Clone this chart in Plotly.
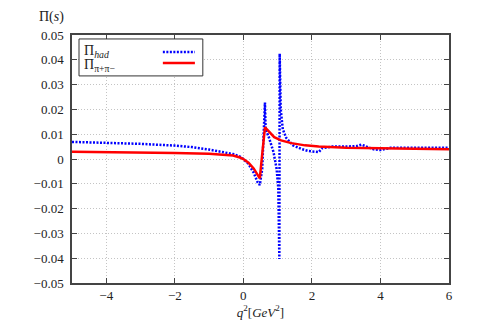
import plotly.graph_objects as go

# Pi_had (blue dotted)
q2_had = [-5.0, -4.0, -3.0, -2.0, -1.5, -1.0, -0.5, -0.3, -0.1, 0.0, 0.15, 0.3, 0.42, 0.48,
          0.55, 0.6, 0.63, 0.65, 0.75, 0.88, 0.97, 1.02, 1.05, 1.06, 1.09, 1.15, 1.25,
          1.45, 1.7, 1.9, 2.2, 2.3, 2.6, 3.0, 3.3, 3.45, 3.6, 3.8, 4.0, 4.3, 5.0, 6.0]
pi_had = [0.0069, 0.0066, 0.0061, 0.0054, 0.0048, 0.0038, 0.0026, 0.0020, 0.0010, 0.0, -0.002,
          -0.0055, -0.0095, -0.0105, -0.004, 0.012, 0.0228, 0.012, 0.0085, 0.0028, -0.004,
          -0.012, -0.0403, 0.0425, 0.02, 0.012, 0.0085, 0.0055, 0.0040, 0.0032, 0.0028, 0.0044,
          0.0050, 0.0050, 0.0052, 0.0058, 0.0050, 0.0039, 0.0036, 0.0045, 0.0045, 0.0045]

# Pi_pi+pi- (red solid)
q2_pp = [-5.0, -4.0, -3.0, -2.0, -1.0, -0.5, -0.3, -0.1, 0.0, 0.15, 0.3, 0.42, 0.48,
         0.55, 0.63, 0.75, 0.9, 1.1, 1.4, 1.8, 2.2, 3.0, 4.0, 5.0, 6.0]
pi_pp = [0.0029, 0.0028, 0.0026, 0.0024, 0.0021, 0.0018, 0.0014, 0.0006, 0.0, -0.0015,
         -0.0038, -0.0065, -0.0078, 0.002, 0.0128, 0.011, 0.0088, 0.0075, 0.0064, 0.0055,
         0.005, 0.0045, 0.0042, 0.004, 0.0039]

x_ticks = [-4, -2, 0, 2, 4, 6]
x_labels = ["\u22124", "\u22122", "0", "2", "4", "6"]
y_ticks = [0.05, 0.04, 0.03, 0.02, 0.01, 0, -0.01, -0.02, -0.03, -0.04, -0.05]
y_labels = ["0.05", "0.04", "0.03", "0.02", "0.01", "0", "\u22120.01", "\u22120.02",
            "\u22120.03", "\u22120.04", "\u22120.05"]

font = "Liberation Serif"
ink = '#222'

fig = go.Figure()
fig.add_trace(go.Scatter(x=q2_had, y=pi_had, mode='lines', name='had',
                         line=dict(color='#0000ff', width=2.5, dash='2px,1.5px')))
fig.add_trace(go.Scatter(x=q2_pp, y=pi_pp, mode='lines', name='pipi',
                         line=dict(color='#ff0000', width=2.5)))

axis_common = dict(showline=True, linecolor='#444', linewidth=1.5, mirror='ticks',
                   ticks='inside', ticklen=5, tickcolor='#444',
                   showgrid=True, gridcolor='#c4c4c4', griddash='1px,2px', gridwidth=1,
                   zeroline=False, tickfont=dict(family=font, size=13, color=ink))

fig.update_layout(
    width=484, height=331,
    margin=dict(l=72, r=35, t=35, b=48),
    paper_bgcolor='white', plot_bgcolor='white',
    showlegend=False,
    font=dict(family=font, color=ink),
    xaxis=dict(range=[-5, 6], tickvals=x_ticks, ticktext=x_labels,
               title=dict(text="<i>q</i><sup>2</sup>[<i>GeV</i><sup>2</sup>]",
                          font=dict(family=font, size=13, color=ink), standoff=2),
               **axis_common),
    yaxis=dict(range=[-0.05, 0.05], tickvals=y_ticks, ticktext=y_labels,
               ticklabelstandoff=4, **axis_common),
)

# y-axis label at top-left
fig.add_annotation(x=(51 - 72) / 377, y=(283 - 17) / 248, xref='paper', yref='paper',
                   xanchor='center', yanchor='middle', text="\u03a0(<i>s</i>)",
                   showarrow=False, font=dict(family=font, size=14, color=ink))

# legend box with sample lines on the right
fig.add_shape(type='rect', xref='paper', yref='paper', x0=0.0186, x1=0.347, y0=0.835, y1=0.984,
              line=dict(color='#333', width=1), fillcolor='white', layer='above')
fig.add_shape(type='line', xref='paper', yref='paper', x0=0.241, x1=0.326, y0=0.931, y1=0.931,
              line=dict(color='#0000ff', width=2.5, dash='2px,1.5px'), layer='above')
fig.add_shape(type='line', xref='paper', yref='paper', x0=0.241, x1=0.326, y0=0.887, y1=0.887,
              line=dict(color='#ff0000', width=2.5), layer='above')
fig.add_annotation(x=0.026, y=0.933, xref='paper', yref='paper', xanchor='left', yanchor='middle',
                   text="\u03a0<sub><i>had</i></sub>", showarrow=False,
                   font=dict(family=font, size=14, color=ink))
fig.add_annotation(x=0.026, y=0.878, xref='paper', yref='paper', xanchor='left', yanchor='middle',
                   text="\u03a0<sub>\u03c0+\u03c0\u2212</sub>", showarrow=False,
                   font=dict(family=font, size=14, color=ink))

fig.write_html("out.html", config={'displayModeBar': False},
               post_script="document.body.style.margin='0';")
